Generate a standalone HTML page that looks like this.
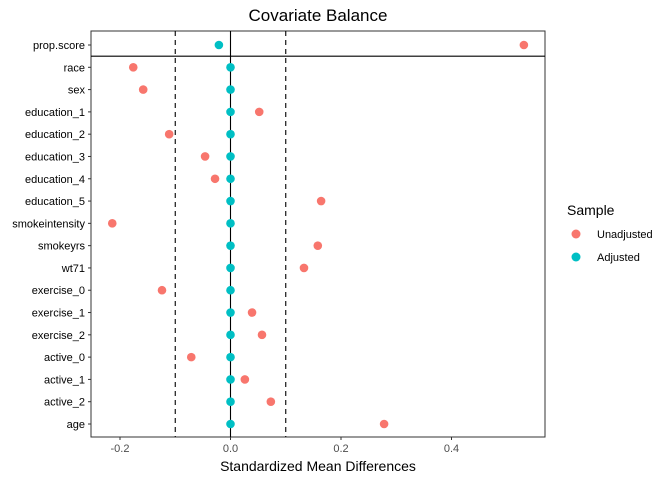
<!DOCTYPE html>
<html><head><meta charset="utf-8"><style>
body{margin:0;background:#fff;width:672px;height:480px;overflow:hidden;font-family:"Liberation Sans",Arial,sans-serif}
</style></head><body>
<svg id="chart" width="672" height="480" xmlns="http://www.w3.org/2000/svg" font-family="Liberation Sans, Arial, sans-serif">
<text x="318" y="21" text-anchor="middle" font-size="17" fill="#000">Covariate Balance</text>
<rect x="91" y="31" width="454" height="406" fill="#fff" stroke="#333" stroke-width="1"/>
<g id="marks"></g>
<text x="318" y="471" text-anchor="middle" font-size="14" fill="#000">Standardized Mean Differences</text>
<g>
<text x="567" y="215" font-size="14" fill="#000">Sample</text>
<circle cx="576" cy="234" r="4.5" fill="#F8766D"/>
<text x="597" y="238" font-size="11" fill="#000">Unadjusted</text>
<circle cx="576" cy="257" r="4.5" fill="#00BFC4"/>
<text x="597" y="261" font-size="11" fill="#000">Adjusted</text>
</g>
</svg>
<script>
const covariates=["prop.score","race","sex","education_1","education_2","education_3","education_4","education_5","smokeintensity","smokeyrs","wt71","exercise_0","exercise_1","exercise_2","active_0","active_1","active_2","age"];
const unadjusted=[0.531,-0.176,-0.158,0.052,-0.111,-0.046,-0.028,0.164,-0.214,0.158,0.133,-0.124,0.039,0.057,-0.071,0.026,0.073,0.278];
const adjusted=[-0.021,0,0,0,0,0,0,0,0,0,0,0,0,0,0,0,0,0];
const xTicks=[-0.2,0,0.2,0.4];
const xTickLabels=["-0.2","0.0","0.2","0.4"];
const thresholds=[-0.1,0.1];

const NS="http://www.w3.org/2000/svg";
const g=document.getElementById("marks");
const x=v=>230.5+v*552.5;
const y=i=>45+i*(379/17);
function mk(t,a){const e=document.createElementNS(NS,t);for(const k in a)e.setAttribute(k,a[k]);g.appendChild(e);return e;}
// zero line
let l=mk("line",{x1:x(0),x2:x(0),y1:31,y2:437,stroke:"#000","stroke-width":1.1});


thresholds.forEach(t=>{const e=mk("line",{x1:x(t),x2:x(t),y1:31,y2:437,stroke:"#000","stroke-width":1.1,"stroke-dasharray":"5,4"});

});
// separator below prop.score
l=mk("line",{x1:91,x2:545,y1:(y(0)+y(1))/2,y2:(y(0)+y(1))/2,stroke:"#000","stroke-width":1.1});


xTicks.forEach((v,i)=>{const t=mk("line",{x1:x(v),x2:x(v),y1:437,y2:440,stroke:"#333"});


const tx=mk("text",{x:x(v),y:452,"text-anchor":"middle","font-size":11,fill:"#4d4d4d"});tx.textContent=xTickLabels[i];

});
covariates.forEach((c,i)=>{const t=mk("line",{x1:88,x2:91,y1:y(i),y2:y(i),stroke:"#333"});


const tx=mk("text",{x:85,y:y(i)+4,"text-anchor":"end","font-size":11,fill:"#000"});tx.textContent=c;


const p=mk("circle",{cx:x(unadjusted[i]),cy:y(i),r:4.3,fill:"#F8766D"});


const q=mk("circle",{cx:x(adjusted[i]),cy:y(i),r:4.3,fill:"#00BFC4"});

});
</script>
</body></html>
